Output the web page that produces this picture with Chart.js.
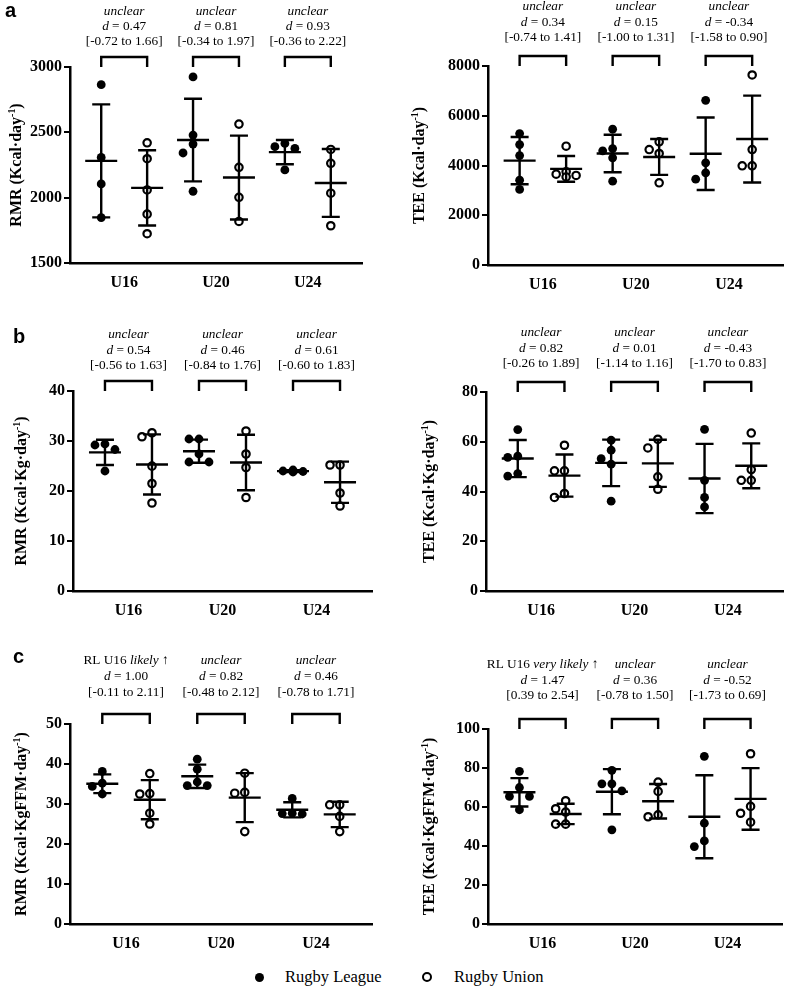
<!DOCTYPE html>
<html>
<head>
<meta charset="utf-8">
<script src="https://cdn.jsdelivr.net/npm/chart.js@4.4.0/dist/chart.umd.min.js"></script>
<style>
    body { margin: 0; background: #fff; }
    #page { position: relative; width: 790px; height: 997px; overflow: hidden; }
    .panel { position: absolute; }
    .legend-text { position: absolute; top: 967px; line-height: 20px; font: 16.5px 'Liberation Serif', 'Times New Roman', serif; color: #000; }
    .dot { position: absolute; border-radius: 50%; box-sizing: border-box; }
    .dot.filled { left: 254.5px; top: 972.5px; width: 9px; height: 9px; background: #000; }
    .dot.open { left: 422px; top: 972px; width: 10px; height: 10px; border: 2px solid #000; background: #fff; }
</style>
</head>
<body>
<div id="page">
    <div class="panel"><canvas id="c-a1"></canvas></div>
    <div class="panel"><canvas id="c-a2"></canvas></div>
    <div class="panel"><canvas id="c-b1"></canvas></div>
    <div class="panel"><canvas id="c-b2"></canvas></div>
    <div class="panel"><canvas id="c-c1"></canvas></div>
    <div class="panel"><canvas id="c-c2"></canvas></div>
    <span class="dot filled"></span><span class="legend-text" style="left:285px">Rugby League</span>
    <span class="dot open"></span><span class="legend-text" style="left:454px">Rugby Union</span>
</div>
<script>
const groups = ['U16', 'U20', 'U24'];

// a: absolute values (kcal/day)
const rmrDayLeague = [[2865, 2308, 2105, 1848], [2924, 2479, 2410, 2342, 2049], [2390, 2377, 2415, 2212]];
const rmrDayUnion = [[2420, 2298, 2059, 1874, 1724], [2563, 2232, 2003, 1818], [2369, 2263, 2034, 1785]];
const teeDayLeague = [[5284, 4843, 4401, 3411, 3037], [5458, 4589, 4682, 4308, 3371], [6622, 4107, 3706, 3452]];
const teeDayUnion = [[4776, 3750, 3650, 3600, 3540], [4950, 4642, 4482, 3304], [7639, 4642, 3987, 3987]];

// b: relative to body mass
const rmrKgLeague = [[29.2, 29.4, 28.3, 24.0], [30.4, 30.4, 27.4, 25.8, 25.8], [24.2, 24.0, 23.9, 23.8]];
const rmrKgUnion = [[31.65, 30.85, 24.97, 21.5, 17.6], [32.0, 27.4, 24.7, 18.7], [25.2, 25.2, 19.6, 17.0]];
const teeKgLeague = [[64.9, 54.2, 53.7, 46.2, 47.2], [60.6, 56.6, 53.2, 51.0, 36.1], [65.0, 44.5, 37.6, 33.8]];
const teeKgUnion = [[58.6, 48.3, 48.3, 37.6, 39.2], [61.0, 57.5, 45.9, 40.9], [63.5, 48.8, 44.5, 44.5]];

// c: relative to fat-free mass
const rmrFfmLeague = [[38.15, 35.2, 34.4, 32.5], [41.2, 38.7, 35.5, 34.6, 34.6], [31.4, 27.7, 27.6, 27.5]];
const rmrFfmUnion = [[37.6, 32.6, 32.5, 27.7, 25.0], [37.7, 32.9, 32.7, 23.1], [29.8, 29.8, 26.9, 23.1]];
const teeFfmLeague = [[78.3, 70.0, 65.4, 65.4, 58.6], [78.8, 71.9, 71.9, 68.3, 48.3], [86.0, 51.7, 42.6, 39.7]];
const teeFfmUnion = [[63.2, 59.1, 57.4, 51.2, 51.2], [72.8, 68.0, 56.0, 55.0], [87.3, 60.3, 56.8, 52.2]];

// effect sizes (text between _ is italic)
const allUnclear = ['_unclear_', '_unclear_', '_unclear_'];
const rmrDayD = ['0.47', '0.81', '0.93'];
const rmrDayCI = ['[-0.72 to 1.66]', '[-0.34 to 1.97]', '[-0.36 to 2.22]'];
const teeDayD = ['0.34', '0.15', '-0.34'];
const teeDayCI = ['[-0.74 to 1.41]', '[-1.00 to 1.31]', '[-1.58 to 0.90]'];
const rmrKgD = ['0.54', '0.46', '0.61'];
const rmrKgCI = ['[-0.56 to 1.63]', '[-0.84 to 1.76]', '[-0.60 to 1.83]'];
const teeKgD = ['0.82', '0.01', '-0.43'];
const teeKgCI = ['[-0.26 to 1.89]', '[-1.14 to 1.16]', '[-1.70 to 0.83]'];
const rmrFfmVerdicts = ['RL U16 _likely_ \u2191', '_unclear_', '_unclear_'];
const rmrFfmD = ['1.00', '0.82', '0.46'];
const rmrFfmCI = ['[-0.11 to 2.11]', '[-0.48 to 2.12]', '[-0.78 to 1.71]'];
const teeFfmVerdicts = ['RL U16 _very likely_ \u2191', '_unclear_', '_unclear_'];
const teeFfmD = ['1.47', '0.36', '-0.52'];
const teeFfmCI = ['[0.39 to 2.54]', '[-0.78 to 1.50]', '[-1.73 to 0.69]'];

const X_MIN = -0.68;
const X_MAX = 5.68;
const SERIF = '"Liberation Serif", "Times New Roman", serif';

const panels = [
    { id: 'a1', left: 0, top: 0, width: 395, height: 300, axisX: 70, plotTop: 67, plotBottom: 263, plotRight: 362,
      yMin: 1500, yMax: 3000, yStep: 500, title: 'RMR (Kcal\u00b7day^-1^)', titleX: 15,
      league: rmrDayLeague, union: rmrDayUnion, verdicts: allUnclear, d: rmrDayD, ci: rmrDayCI,
      textTop: -55, lineGap: 15, letter: 'a', letterX: 5, letterY: 17 },
    { id: 'a2', left: 395, top: 0, width: 395, height: 300, axisX: 488, plotTop: 66, plotBottom: 265, plotRight: 785,
      yMin: 0, yMax: 8000, yStep: 2000, title: 'TEE (Kcal\u00b7day^-1^)', titleX: 418,
      league: teeDayLeague, union: teeDayUnion, verdicts: allUnclear, d: teeDayD, ci: teeDayCI,
      textTop: -59, lineGap: 15.5 },
    { id: 'b1', left: 0, top: 305, width: 395, height: 320, axisX: 73, plotTop: 391, plotBottom: 591, plotRight: 372,
      yMin: 0, yMax: 40, yStep: 10, title: 'RMR (Kcal\u00b7Kg\u00b7day^-1^)', titleX: 20,
      league: rmrKgLeague, union: rmrKgUnion, verdicts: allUnclear, d: rmrKgD, ci: rmrKgCI,
      textTop: -56, lineGap: 15.5, letter: 'b', letterX: 13, letterY: 343 },
    { id: 'b2', left: 395, top: 305, width: 395, height: 320, axisX: 486, plotTop: 392, plotBottom: 591, plotRight: 783,
      yMin: 0, yMax: 80, yStep: 20, title: 'TEE (Kcal\u00b7Kg\u00b7day^-1^)', titleX: 428,
      league: teeKgLeague, union: teeKgUnion, verdicts: allUnclear, d: teeKgD, ci: teeKgCI,
      textTop: -59, lineGap: 15.3 },
    { id: 'c1', left: 0, top: 625, width: 395, height: 335, axisX: 70, plotTop: 724, plotBottom: 924, plotRight: 372,
      yMin: 0, yMax: 50, yStep: 10, title: 'RMR (Kcal\u00b7KgFFM\u00b7day^-1^)', titleX: 20,
      league: rmrFfmLeague, union: rmrFfmUnion, verdicts: rmrFfmVerdicts, d: rmrFfmD, ci: rmrFfmCI,
      textTop: -63, lineGap: 16, letter: 'c', letterX: 13, letterY: 663 },
    { id: 'c2', left: 395, top: 625, width: 395, height: 335, axisX: 488, plotTop: 729, plotBottom: 924, plotRight: 782,
      yMin: 0, yMax: 100, yStep: 20, title: 'TEE (Kcal\u00b7KgFFM\u00b7day^-1^)', titleX: 428,
      league: teeFfmLeague, union: teeFfmUnion, verdicts: teeFfmVerdicts, d: teeFfmD, ci: teeFfmCI,
      textTop: -64, lineGap: 15.3 }
];

function mean(vals) {
    return vals.reduce((a, b) => a + b, 0) / vals.length;
}

function sd(vals) {
    const m = mean(vals);
    return Math.sqrt(vals.reduce((a, v) => a + (v - m) * (v - m), 0) / (vals.length - 1));
}

// simple beeswarm so dots with close values sit side by side
function swarm(p, sets, side) {
    const pxX = (p.plotRight - p.axisX) / (X_MAX - X_MIN);
    const pxY = (p.plotBottom - p.plotTop) / (p.yMax - p.yMin);
    const gap = 10;
    const pts = [];
    sets.forEach((vals, i) => {
        const base = 2 * i + side;
        const placed = [];
        [...vals].sort((a, b) => b - a).forEach(v => {
            let best = 0;
            let bestHit = Infinity;
            for (const k of [0, -1, 1]) {
                const dx = k * gap;
                const hit = placed.filter(q => Math.hypot(q.dx - dx, (q.v - v) * pxY) < gap - 1).length;
                if (hit < bestHit) {
                    best = dx;
                    bestHit = hit;
                }
                if (hit === 0) break;
            }
            placed.push({ dx: best, v });
            pts.push({ x: base + best / pxX, y: v });
        });
    });
    return pts;
}

function drawRuns(ctx, text, cx, cy, size, weight) {
    const runs = text.split('_').map((t, i) => ({ t, italic: i % 2 === 1 }));
    const fontOf = (r) => `${r.italic ? 'italic ' : ''}${weight} ${size}px ${SERIF}`;
    let total = 0;
    runs.forEach(r => {
        ctx.font = fontOf(r);
        r.w = ctx.measureText(r.t).width;
        total += r.w;
    });
    let x = cx - total / 2;
    ctx.textAlign = 'left';
    ctx.textBaseline = 'middle';
    runs.forEach(r => {
        ctx.font = fontOf(r);
        ctx.fillText(r.t, x, cy);
        x += r.w;
    });
}

function drawSuperTitle(ctx, text, size) {
    // text between ^ is superscript
    const runs = text.split('^').map((t, i) => ({ t, sup: i % 2 === 1 }));
    const fontOf = (r) => `bold ${r.sup ? size * 0.62 : size}px ${SERIF}`;
    let total = 0;
    runs.forEach(r => {
        ctx.font = fontOf(r);
        r.w = ctx.measureText(r.t).width;
        total += r.w;
    });
    let x = -total / 2;
    ctx.textAlign = 'left';
    ctx.textBaseline = 'alphabetic';
    runs.forEach(r => {
        ctx.font = fontOf(r);
        ctx.fillText(r.t, x, size * 0.35 + (r.sup ? -size * 0.38 : 0));
        x += r.w;
    });
}

const figurePlugin = {
    id: 'figure',
    afterDatasetsDraw(chart) {
        const p = chart.config.options.panel;
        const ctx = chart.ctx;
        const xs = chart.scales.x;
        const ys = chart.scales.y;
        ctx.save();
        ctx.strokeStyle = '#000';
        ctx.lineWidth = 2.4;
        ctx.lineCap = 'butt';
        [p.league, p.union].forEach((sets, side) => {
            sets.forEach((vals, i) => {
                const cx = xs.getPixelForValue(2 * i + side);
                const m = mean(vals);
                const s = sd(vals);
                const yM = ys.getPixelForValue(m);
                const yHi = ys.getPixelForValue(m + s);
                const yLo = ys.getPixelForValue(m - s);
                ctx.beginPath();
                ctx.moveTo(cx, yHi);
                ctx.lineTo(cx, yLo);
                ctx.moveTo(cx - 9, yHi);
                ctx.lineTo(cx + 9, yHi);
                ctx.moveTo(cx - 9, yLo);
                ctx.lineTo(cx + 9, yLo);
                ctx.moveTo(cx - 16, yM);
                ctx.lineTo(cx + 16, yM);
                ctx.stroke();
            });
        });
        ctx.restore();
    },
    afterDraw(chart) {
        const p = chart.config.options.panel;
        const ctx = chart.ctx;
        const xs = chart.scales.x;
        const top = chart.chartArea.top;
        ctx.save();
        ctx.fillStyle = '#000';
        ctx.strokeStyle = '#000';
        ctx.lineWidth = 2.4;
        groups.forEach((g, i) => {
            const x1 = xs.getPixelForValue(2 * i);
            const x2 = xs.getPixelForValue(2 * i + 1);
            const yb = top - 10;
            ctx.beginPath();
            ctx.moveTo(x1, top);
            ctx.lineTo(x1, yb);
            ctx.lineTo(x2, yb);
            ctx.lineTo(x2, top);
            ctx.stroke();
            const cx = (x1 + x2) / 2;
            drawRuns(ctx, p.verdicts[i], cx, top + p.textTop, 13.3, 'normal');
            drawRuns(ctx, '_d_ = ' + p.d[i], cx, top + p.textTop + p.lineGap, 13.3, 'normal');
            drawRuns(ctx, p.ci[i], cx, top + p.textTop + 2 * p.lineGap, 13.3, 'normal');
        });
        // rotated y-axis title
        ctx.save();
        ctx.translate(p.titleX - p.left, (chart.chartArea.top + chart.chartArea.bottom) / 2);
        ctx.rotate(-Math.PI / 2);
        drawSuperTitle(ctx, p.title, 16);
        ctx.restore();
        if (p.letter) {
            ctx.font = 'bold 20px "Liberation Sans", Arial, sans-serif';
            ctx.textAlign = 'left';
            ctx.textBaseline = 'alphabetic';
            ctx.fillText(p.letter, p.letterX - p.left, p.letterY - p.top);
        }
        ctx.restore();
    }
};

function buildChart(p) {
    const canvas = document.getElementById('c-' + p.id);
    canvas.width = p.width;
    canvas.height = p.height;
    canvas.parentElement.style.left = p.left + 'px';
    canvas.parentElement.style.top = p.top + 'px';
    const tickFont = { family: SERIF, size: 16, weight: 'bold' };

    return new Chart(canvas, {
        type: 'scatter',
        data: {
            datasets: [
                {
                    label: 'Rugby League',
                    data: swarm(p, p.league, 0),
                    pointRadius: 4.4,
                    pointBackgroundColor: '#000',
                    pointBorderColor: '#000',
                    pointBorderWidth: 0,
                    clip: false
                },
                {
                    label: 'Rugby Union',
                    data: swarm(p, p.union, 1),
                    pointRadius: 3.7,
                    pointBackgroundColor: '#fff',
                    pointBorderColor: '#000',
                    pointBorderWidth: 2.2,
                    clip: false
                }
            ]
        },
        options: {
            panel: p,
            responsive: false,
            animation: false,
            events: [],
            layout: {
                padding: { top: p.plotTop - p.top, right: p.left + p.width - p.plotRight, left: 0, bottom: 0 }
            },
            plugins: {
                legend: { display: false },
                tooltip: { enabled: false }
            },
            scales: {
                x: {
                    type: 'linear',
                    min: X_MIN,
                    max: X_MAX,
                    afterBuildTicks: (s) => {
                        s.ticks = groups.map((g, i) => ({ value: 2 * i + 0.5 }));
                    },
                    afterFit: (s) => {
                        s.height = p.top + p.height - p.plotBottom;
                    },
                    ticks: {
                        callback: (v, i) => groups[i],
                        font: tickFont,
                        color: '#000',
                        padding: 10,
                        maxRotation: 0,
                        autoSkip: false
                    },
                    grid: { display: false, drawTicks: false },
                    border: { display: true, color: '#000', width: 2.5 }
                },
                y: {
                    min: p.yMin,
                    max: p.yMax,
                    afterFit: (s) => {
                        s.width = p.axisX - p.left;
                    },
                    ticks: {
                        stepSize: p.yStep,
                        callback: (v) => String(v),
                        font: tickFont,
                        color: '#000',
                        padding: 2
                    },
                    grid: {
                        display: true,
                        drawOnChartArea: false,
                        drawTicks: true,
                        tickLength: 6,
                        color: '#000',
                        lineWidth: 2
                    },
                    border: { display: true, color: '#000', width: 2.5 }
                }
            }
        },
        plugins: [figurePlugin]
    });
}

panels.forEach(buildChart);
</script>
</body>
</html>
